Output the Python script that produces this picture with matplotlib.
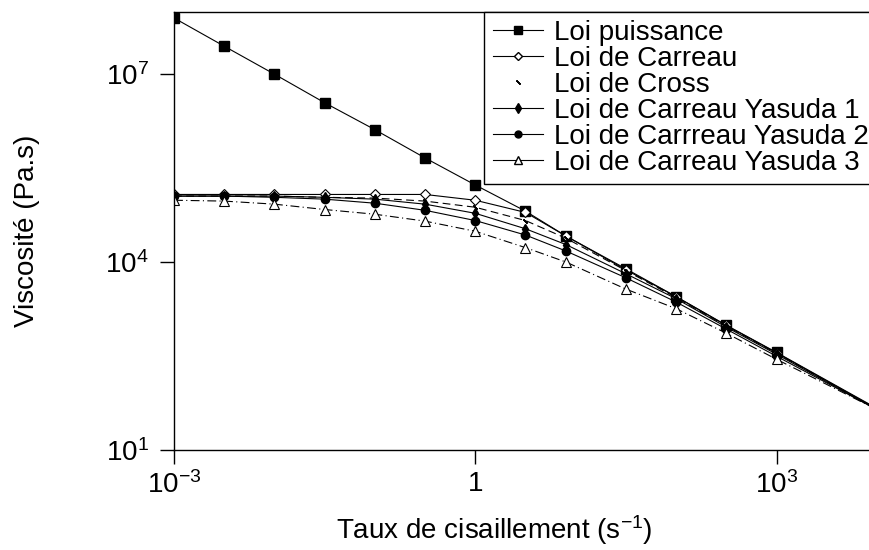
import matplotlib
matplotlib.use("Agg")
import matplotlib.pyplot as plt
from matplotlib.lines import Line2D

plt.rcParams.update({
    "font.family": ["Liberation Sans", "DejaVu Sans"],
    "font.size": 20,
    "mathtext.fontset": "custom",
    "mathtext.rm": "Liberation Sans",
    "mathtext.it": "Liberation Sans:italic",
})

# taux de cisaillement (s-1)
gamma = [1e-3, 3.16e-3, 1e-2, 3.16e-2, 1e-1, 3.16e-1, 1.0, 3.16, 8.0, 31.6, 100, 316, 1000, 10000]

# viscosites (Pa.s)
puissance = [7.9e7, 2.8e7, 1.0e7, 3.5e6, 1.3e6, 4.6e5, 1.7e5, 6.5e4, 2.6e4, 7.8e3, 2.8e3, 980, 360, 46]
carreau = [1.2e5, 1.2e5, 1.2e5, 1.2e5, 1.2e5, 1.2e5, 9.7e4, 6.2e4, 2.6e4, 7.5e3, 2.8e3, 970, 355, 45]
cross = [1.13e5, 1.13e5, 1.13e5, 1.08e5, 1.05e5, 9.4e4, 7.5e4, 4.6e4, 2.4e4, 7.3e3, 2.7e3, 950, 350, 44]
yasuda1 = [1.13e5, 1.13e5, 1.13e5, 1.08e5, 1.01e5, 8.4e4, 6.0e4, 3.4e4, 1.9e4, 6.5e3, 2.6e3, 915, 337, 44]
yasuda2 = [1.13e5, 1.13e5, 1.08e5, 1.01e5, 8.7e4, 6.7e4, 4.6e4, 2.7e4, 1.5e4, 5.6e3, 2.3e3, 850, 313, 44]
yasuda3 = [9.7e4, 9.4e4, 8.4e4, 6.9e4, 5.8e4, 4.5e4, 3.1e4, 1.7e4, 1.0e4, 3.7e3, 1.8e3, 730, 280, 44]

labels = ["Loi puissance", "Loi de Carreau", "Loi de Cross",
          "Loi de Carreau Yasuda 1", "Loi de Carrreau Yasuda 2", "Loi de Carreau Yasuda 3"]

fig = plt.figure(figsize=(8.7, 5.5), dpi=100)
# l'axe depasse un peu a droite, comme sur l'original (coupe au bord)
ax = fig.add_axes([0.2, 0.182, 0.808, 0.797])

lw = 0.8
ax.plot(gamma, puissance, "-", color="black", lw=lw, marker="s", ms=7, mfc="black")
ax.plot(gamma, carreau, "-", color="black", lw=lw, marker="D", ms=5, mfc="white", mew=0.8)
ax.plot(gamma, cross, color="black", lw=lw, ls=(0, (7, 4)), marker=(2, 2, 45), ms=4)
ax.plot(gamma, yasuda1, "-", color="black", lw=lw, marker="d", ms=5, mfc="black")
ax.plot(gamma, yasuda2, "-", color="black", lw=lw, marker="o", ms=6, mfc="black")
ax.plot(gamma, yasuda3, color="black", lw=lw, ls=(0, (8, 3, 1, 3)), marker="^", ms=7,
        mfc="white", mew=0.8)

ax.set_xscale("log")
ax.set_yscale("log")
ax.set_xlim(1e-3, 1e4)
ax.set_ylim(1e1, 1e8)

ax.set_xticks([1e-3, 1, 1e3])
ax.set_xticklabels(["$10^{-3}$", "1", "$10^{3}$"])
ax.set_yticks([1e1, 1e4, 1e7])
ax.set_yticklabels(["$10^{1}$", "$10^{4}$", "$10^{7}$"])
ax.minorticks_off()
ax.tick_params(direction="out", length=10, width=1)
ax.tick_params(axis="x", pad=5)
ax.tick_params(axis="y", pad=8)
for s in ax.spines.values():
    s.set_linewidth(1)

ax.set_xlabel("Taux de cisaillement (s$^{-1}$)")
ax.xaxis.set_label_coords(0.455, -0.145)
ax.set_ylabel("Viscosité (Pa.s)")
ax.yaxis.set_label_coords(-0.19, 0.5)

# legende : Cross sans trait dans la legende
handles = [
    Line2D([], [], color="black", lw=lw, marker="s", ms=6, mfc="black"),
    Line2D([], [], color="black", lw=lw, marker="D", ms=4, mfc="white"),
    Line2D([], [], color="black", ls="none", marker=(2, 2, 45), ms=4),
    Line2D([], [], color="black", lw=lw, marker="d", ms=5, mfc="black"),
    Line2D([], [], color="black", lw=lw, marker="o", ms=5, mfc="black"),
    Line2D([], [], color="black", lw=lw, marker="^", ms=6, mfc="white"),
]
leg = ax.legend(handles, labels, loc="upper right", borderaxespad=0, frameon=True,
                fancybox=False, edgecolor="black", framealpha=1, handlelength=1.8,
                handletextpad=0.4, labelspacing=0.0, borderpad=0.3, fontsize=20)
leg.get_frame().set_linewidth(1)

fig.savefig("out.png", dpi=100)
